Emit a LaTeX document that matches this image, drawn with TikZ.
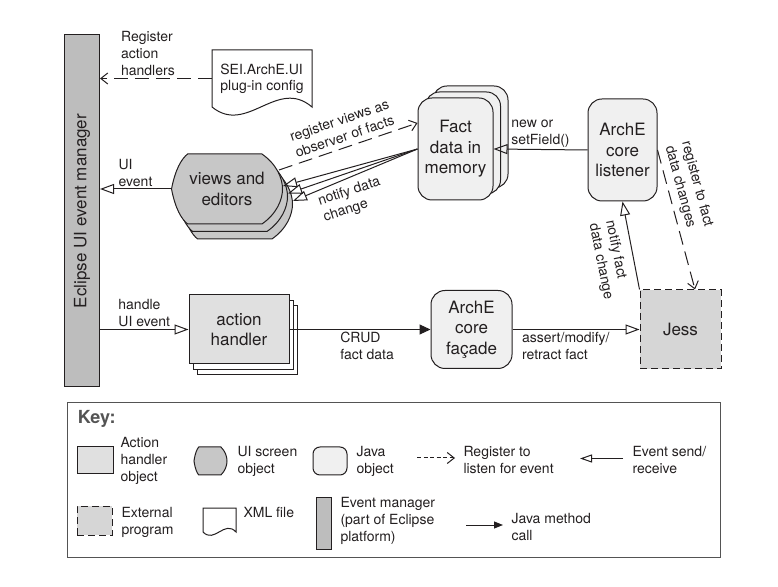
\documentclass[tikz,border=0pt]{standalone}
\usepackage{fontspec}
\setmainfont{TeX Gyre Heros}
\usetikzlibrary{calc}
\usetikzlibrary{arrows.meta}

\definecolor{barfill}{gray}{0.74}
\definecolor{screenfill}{gray}{0.78}
\definecolor{javafill}{gray}{0.94}
\definecolor{handlerfill}{gray}{0.88}
\definecolor{extfill}{gray}{0.84}
\definecolor{keygray}{gray}{0.33}
\definecolor{inkblack}{RGB}{35,31,32}

\tikzset{
  big/.style={font=\fontsize{17}{20.5}\selectfont, align=center},
  lbl/.style={font=\fontsize{14}{17}\selectfont, align=left, inner sep=2pt},
  javabox/.style={draw, fill=javafill, rounded corners=14pt, big},
  handlerbox/.style={draw, fill=handlerfill, big},
  extbox/.style={draw, dash pattern=on 7pt off 4pt, fill=extfill, big},
  evbar/.style={draw, fill=barfill},
  evsend/.style={-{Triangle[open, length=14pt, width=10pt]}},
  jcall/.style={-{Triangle[length=11pt, width=10pt]}},
  regdash/.style={dash pattern=on 14pt off 7pt, -{Straight Barb[length=7pt, width=11pt]}},
  uiscreen/.pic={
    \path[draw, fill=screenfill] (-1,0) .. controls (-0.93,0.57) and (-0.82,0.86) .. (-0.71,1)
      -- (0.63,1) .. controls (0.9,0.7) and (1,0.3) .. (1,0)
      .. controls (1,-0.3) and (0.9,-0.7) .. (0.63,-1)
      -- (-0.71,-1) .. controls (-0.82,-0.86) and (-0.93,-0.57) .. (-1,0) -- cycle;
  },
  xmlfile/.pic={
    \path[draw, fill=white] (-1,1) -- (1,1) -- (1,-1)
      .. controls (0.3,0.05) and (-0.3,-2) .. (-1,-1) -- cycle;
  },
}

\begin{document}
\begin{tikzpicture}[x=1pt, y=1pt, line width=1pt, color=inkblack]
\useasboundingbox (0,0) rectangle (778,586);

% event manager bar
\node[evbar, minimum width=35pt, minimum height=352pt] (evm) at (82,375) {};
\node[big, rotate=90] (evmtxt) at (evm.center) {Eclipse UI event manager};

% plug-in config file
\pic[shift={(262,507.5)}, xscale=50, yscale=28.5] {xmlfile};
\node[minimum width=100pt, minimum height=57pt, font=\fontsize{14}{16}\selectfont, align=left] (xml) at (262,507.5) {SEI.ArchE.UI\\plug-in config};

% views and editors
\foreach \d in {2,1,0}
  \pic[shift={(227+5*\d,397-7.5*\d)}, xscale=55.5, yscale=35] {uiscreen};
\node[big, minimum width=111pt, minimum height=70pt] (views) at (227,397) {views and\\editors};

% fact data
\foreach \d in {2,1}
  \node[javabox, minimum width=75pt, minimum height=102pt] at (455.5+7.5*\d,437+6*\d) {};
\node[javabox, minimum width=75pt, minimum height=102pt] (fact) at (455.5,437) {Fact\\data in\\memory};

\node[javabox, minimum width=69pt, minimum height=102pt] (listener) at (622.5,436) {ArchE\\core\\listener};

% lower row
\foreach \d in {2,1}
  \node[handlerbox, fill=white, minimum width=100pt, minimum height=69pt] at (239+4*\d,256.5-5.5*\d) {};
\node[handlerbox, minimum width=100pt, minimum height=69pt] (action) at (239,256.5) {action\\handler};
\node[javabox, minimum width=81pt, minimum height=78pt] (facade) at (471.5,256.5) {ArchE\\core\\façade};
\node[extbox, minimum width=81pt, minimum height=79pt] (jess) at (680.5,256.5) {Jess};

% connectors
\draw[regdash] (xml.west) -- (evm.east |- xml.west)
  node[pos=0.57, above, lbl] (reglbl) {Register\\action\\handlers};
\draw[evsend] (views.west) -- (evm.east |- views.west)
  node[midway, above, lbl] (uilbl) {UI\\event};
\draw[regdash] ($(views.center)+(52,19)$) -- ($(fact.west)+(0,26)$)
  node[midway, above=3pt, sloped, lbl] (obslbl) {register views as\\observer of facts};
\foreach \d in {0,1,2}
  \draw[evsend] (fact.west) -- ($(views.east)+(5*\d,3-7.5*\d)$);
\node[lbl, rotate=18] (notifylbl) at (352,386) {notify data\\change};
\draw[evsend] (listener.west) -- (fact.east)
  node[midway, above, lbl] (newlbl) {new or\\setField()};
\draw[regdash] (listener.east) -- ($(jess.north)+(14.5,0)$)
  node[pos=0.3, above=3pt, sloped, lbl] (chglbl) {register to fact\\data changes};
\draw[evsend] (jess.north west) -- (listener.south);
\node[lbl, rotate=-78.6] (notifyfact) at (609,326) {notify fact\\data change};

\draw[evsend] (evm.east |- action.west) -- (action.west)
  node[midway, above, lbl] (handlelbl) {handle\\UI event};
\draw[jcall] (action.east) -- (facade.west)
  node[pos=0.55, below, lbl] (crudlbl) {CRUD\\fact data};
\draw[evsend] (facade.east) -- (jess.west)
  node[pos=0.42, below, lbl] (assertlbl) {assert/modify/\\retract fact};

% key
\draw[keygray] (67,29) rectangle (720,183);
\node[anchor=west, text=keygray, font=\bfseries\fontsize{18}{20}\selectfont] (keytitle) at (74,167) {Key:};

\node[handlerbox, minimum width=36pt, minimum height=27pt] (kaction) at (95,125.5) {};
\node[lbl, anchor=west] (kactiontxt) at (118,125) {Action\\handler\\object};
\pic[shift={(210.5,125)}, xscale=16.5, yscale=14] {uiscreen};
\node[lbl, anchor=west] (kscreentxt) at (235,124.5) {UI screen\\object};
\node[javabox, rounded corners=7pt, minimum width=34pt, minimum height=28pt] (kjava) at (330,125) {};
\node[lbl, anchor=west] (kjavatxt) at (354,124.5) {Java\\object};
\coordinate (kreg1) at (417,128);
\coordinate (kreg2) at (455,128);
\draw[regdash, dash pattern=on 4pt off 2.5pt] (kreg1) -- (kreg2);
\node[lbl, anchor=west] (kregtxt) at (461,125.5) {Register to\\listen for event};
\coordinate (ksend1) at (623,127.5);
\coordinate (ksend2) at (580,127.5);
\draw[-{Triangle[open, length=12pt, width=8pt]}] (ksend1) -- (ksend2);
\node[lbl, anchor=west] (ksendtxt) at (630,125.5) {Event send/\\receive};

\node[extbox, minimum width=35pt, minimum height=29pt] (kext) at (94.5,65.5) {};
\node[lbl, anchor=west] (kexttxt) at (119,64) {External\\program};
\pic[shift={(219.5,66)}, xscale=16.5, yscale=12] {xmlfile};
\node[lbl, anchor=west] (kxmltxt) at (241,74) {XML file};
\node[evbar, minimum width=15pt, minimum height=52pt] (kbar) at (323.5,63) {};
\node[lbl, anchor=west] (kbartxt) at (338,65) {Event manager\\(part of Eclipse\\platform)};
\coordinate (kcall1) at (466,61);
\coordinate (kcall2) at (503,61);
\draw[-{Triangle[length=9pt, width=7pt]}] (kcall1) -- (kcall2);
\node[lbl, anchor=west] (kcalltxt) at (509,58.5) {Java method\\call};

\end{tikzpicture}
\end{document}
